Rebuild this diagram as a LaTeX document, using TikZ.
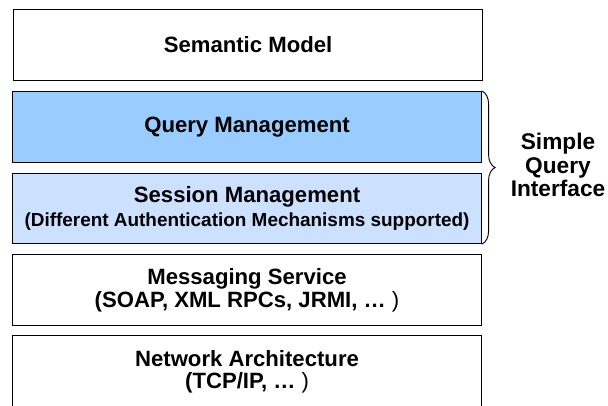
\documentclass[tikz,border=0pt]{standalone}
\usepackage{fontspec}
\setmainfont{Liberation Sans}
\usetikzlibrary{decorations.pathreplacing}
\definecolor{querybl}{HTML}{99CCFF}
\definecolor{sessbl}{HTML}{CCE0FF}
\tikzset{
  layer/.style={draw=black, line width=0.8pt, rectangle, inner sep=0pt,
    minimum width=469*0.75pt, minimum height=71*0.75pt, anchor=north west,
    align=center, font=\bfseries\fontsize{16.6}{17.5}\selectfont},
  sidelabel/.style={align=center, font=\bfseries\fontsize{17}{17.4}\selectfont},
  bracket/.style={draw=black, line width=0.7pt, decorate,
    decoration={brace, amplitude=9.75pt}}
}
\begin{document}
\begin{tikzpicture}[x=0.75pt,y=-0.75pt]
  \useasboundingbox (0,0) rectangle (608,405);
  \clip (0,0) rectangle (608,405);
  % protocol stack, top to bottom
  \node[layer, fill=white] (sem) at (13,9) {Semantic Model};
  \node[layer, fill=querybl] (qm) at (12,91) {Query Management};
  \node[layer, fill=sessbl, minimum height=70*0.75pt] (sm) at (12,173)
    {Session Management\\[1pt]{\fontsize{14.2}{16}\selectfont (Different Authentication Mechanisms supported)}};
  \node[layer, fill=white] (msg) at (12,254)
    {Messaging Service\\(SOAP, XML RPCs, JRMI, … {\mdseries )}};
  \node[layer, fill=white, minimum height=74*0.75pt] (net) at (12,335)
    {\raisebox{2pt}{\begin{tabular}{c}Network Architecture\\[-1pt](TCP/IP, … {\mdseries )}\end{tabular}}};
  % grouping of the two query layers
  \draw[bracket] (qm.north east) -- (sm.south east);
  \node[sidelabel] (sqi) at (558,165) {Simple\\Query\\Interface};
\end{tikzpicture}
\end{document}
